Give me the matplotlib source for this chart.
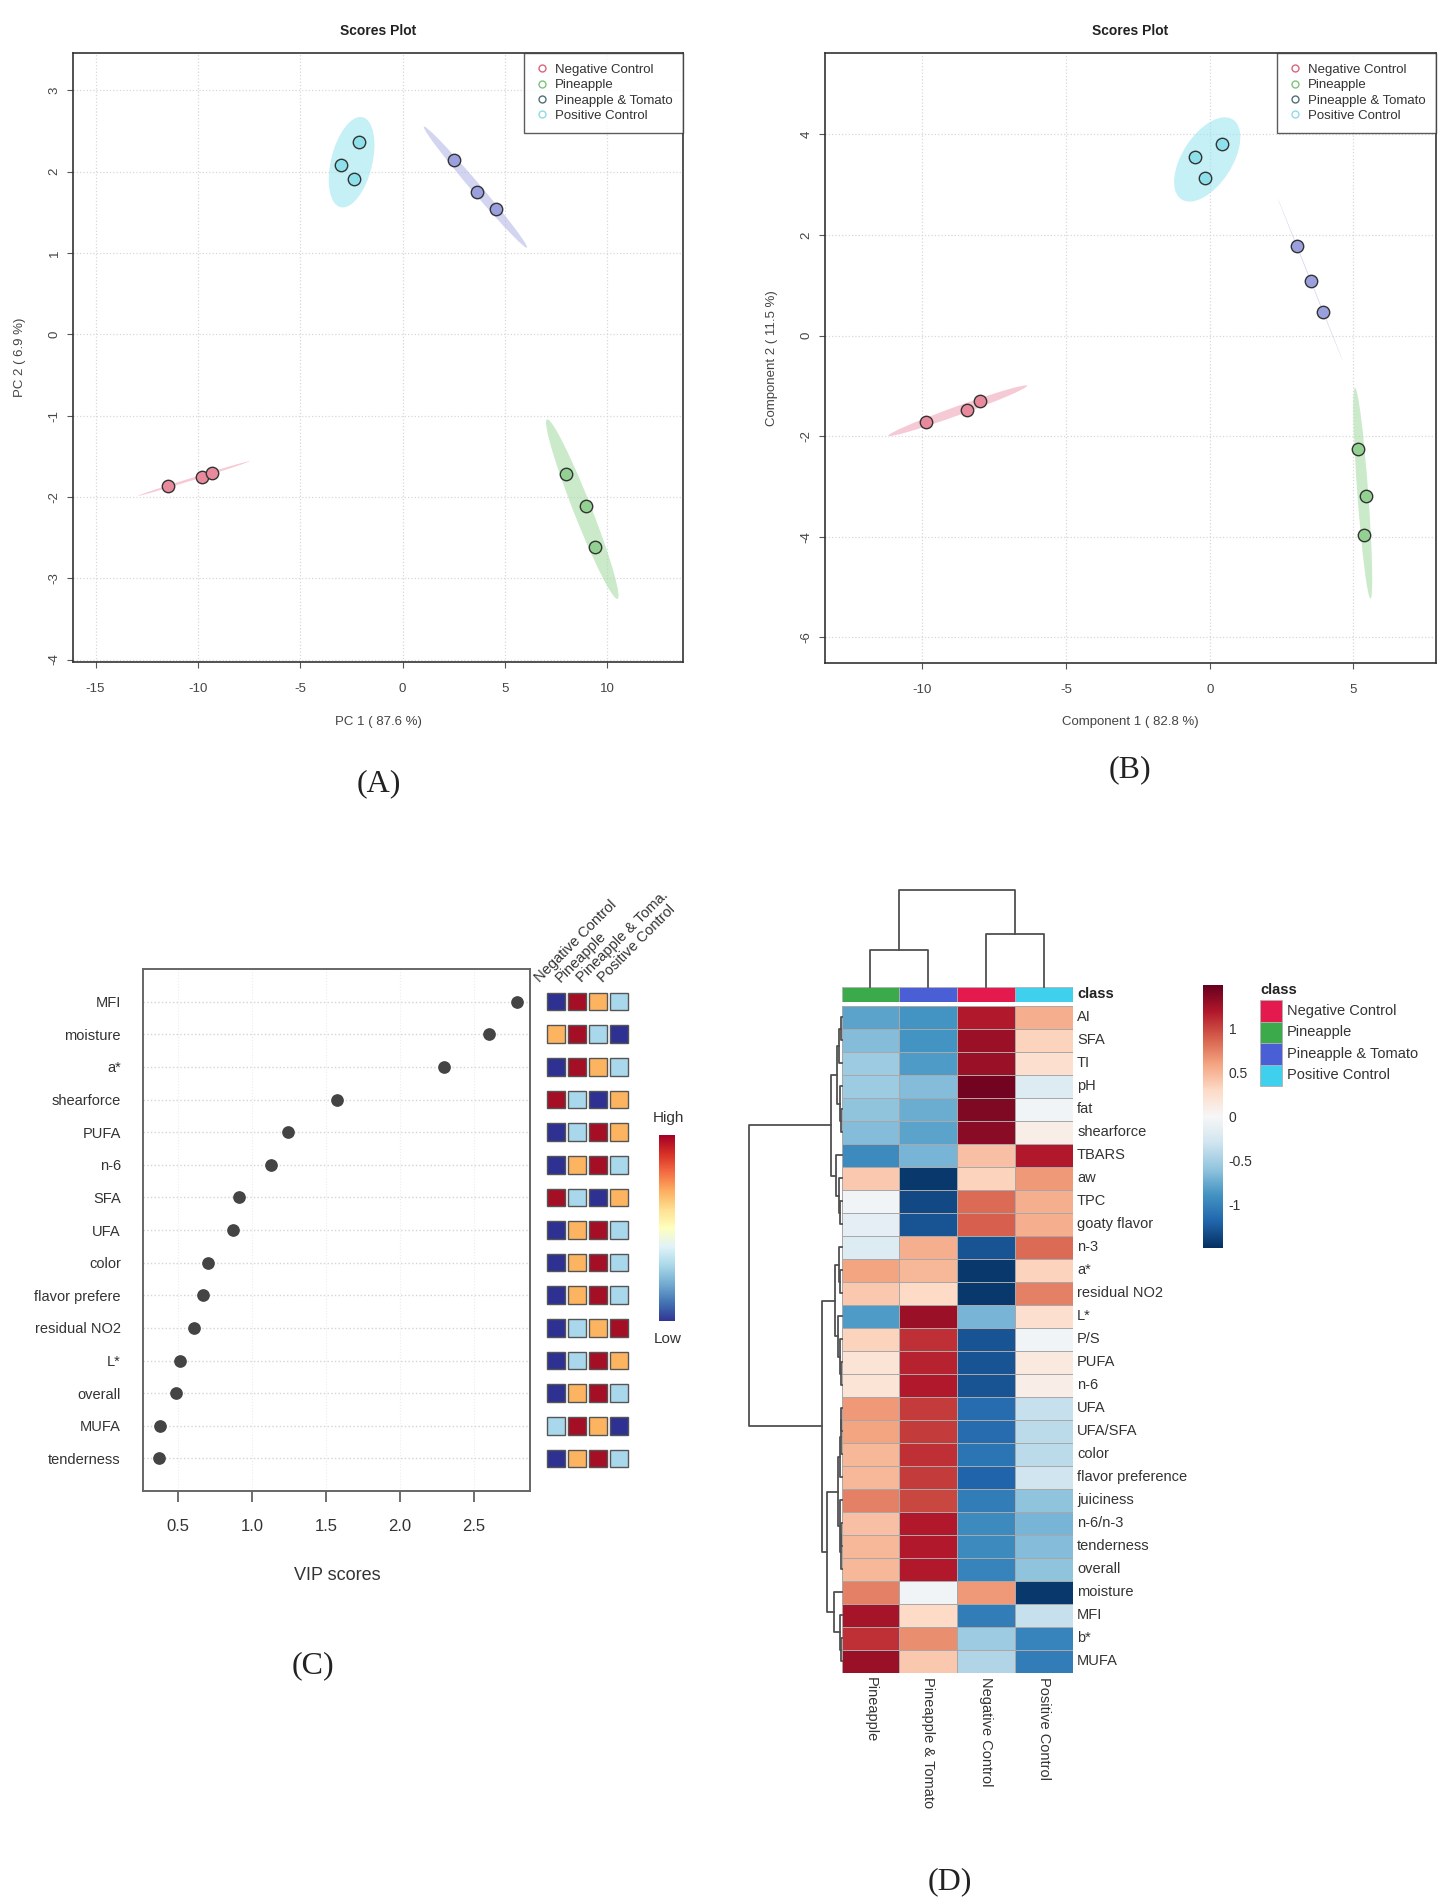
import numpy as np
import matplotlib
matplotlib.use("Agg")
import matplotlib.pyplot as plt
from matplotlib.patches import Ellipse, Rectangle
from matplotlib.lines import Line2D

plt.rcParams['font.family'] = ['Liberation Sans', 'DejaVu Sans']

W, H = 1442, 1904

#%%
# Data

groups = ["Negative Control", "Pineapple", "Pineapple & Tomato", "Positive Control"]

# (A) PCA scores, one list per group
pca_pc1 = [[-11.45, -9.80, -9.33], [7.99, 8.94, 9.41], [2.50, 3.62, 4.56], [-2.12, -3.00, -2.35]]
pca_pc2 = [[-1.87, -1.75, -1.70], [-1.72, -2.11, -2.62], [2.14, 1.75, 1.54], [2.36, 2.08, 1.91]]

# (B) PLS-DA scores
pls_c1 = [[-9.87, -8.44, -7.98], [5.17, 5.42, 5.38], [3.02, 3.52, 3.95], [-0.51, 0.42, -0.17]]
pls_c2 = [[-1.71, -1.47, -1.30], [-2.25, -3.19, -3.96], [1.79, 1.09, 0.46], [3.55, 3.82, 3.14]]

# (C) VIP scores + relative level per group (1 = low ... 4 = high)
vip_features = ["MFI", "moisture", "a*", "shearforce", "PUFA", "n-6", "SFA", "UFA", "color",
                "flavor prefere", "residual NO2", "L*", "overall", "MUFA", "tenderness"]
vip_scores = [2.79, 2.60, 2.30, 1.575, 1.245, 1.13, 0.91, 0.87, 0.705, 0.67, 0.61, 0.51, 0.485, 0.38, 0.37]
vip_rank = [[1, 4, 3, 2], [3, 4, 2, 1], [1, 4, 3, 2], [4, 2, 1, 3], [1, 2, 4, 3],
            [1, 3, 4, 2], [4, 2, 1, 3], [1, 3, 4, 2], [1, 3, 4, 2], [1, 3, 4, 2],
            [1, 2, 3, 4], [1, 2, 4, 3], [1, 3, 4, 2], [2, 4, 3, 1], [1, 3, 4, 2]]
vip_headers = ["Negative Control", "Pineapple", "Pineapple & Toma.", "Positive Control"]

# (D) heatmap (z-scores), columns in clustered order
heat_cols = ["Pineapple", "Pineapple & Tomato", "Negative Control", "Positive Control"]
heat_rows = ["AI", "SFA", "TI", "pH", "fat", "shearforce", "TBARS", "aw", "TPC", "goaty flavor",
             "n-3", "a*", "residual NO2", "L*", "P/S", "PUFA", "n-6", "UFA", "UFA/SFA", "color",
             "flavor preference", "juiciness", "n-6/n-3", "tenderness", "overall", "moisture",
             "MFI", "b*", "MUFA"]
heat_values = [
    [-0.80, -0.90, 1.20, 0.55], [-0.65, -0.90, 1.30, 0.35], [-0.55, -0.85, 1.30, 0.25],
    [-0.55, -0.65, 1.45, -0.20], [-0.60, -0.75, 1.40, -0.05], [-0.65, -0.80, 1.35, 0.10],
    [-0.95, -0.70, 0.45, 1.20], [0.40, -1.45, 0.35, 0.65], [-0.05, -1.35, 0.85, 0.55],
    [-0.15, -1.30, 0.90, 0.55], [-0.20, 0.55, -1.30, 0.85], [0.60, 0.50, -1.45, 0.35],
    [0.40, 0.30, -1.45, 0.75], [-0.85, 1.30, -0.70, 0.25], [0.35, 1.10, -1.30, -0.05],
    [0.20, 1.15, -1.30, 0.15], [0.20, 1.20, -1.30, 0.10], [0.65, 1.05, -1.15, -0.35],
    [0.60, 1.05, -1.15, -0.40], [0.50, 1.10, -1.10, -0.40], [0.50, 1.05, -1.20, -0.30],
    [0.75, 1.00, -1.05, -0.60], [0.45, 1.20, -0.95, -0.70], [0.50, 1.20, -0.95, -0.65],
    [0.50, 1.20, -1.00, -0.60], [0.75, -0.05, 0.65, -1.45], [1.25, 0.30, -1.05, -0.35],
    [1.10, 0.70, -0.55, -1.00], [1.30, 0.40, -0.45, -1.05]]
heat_col_class = [1, 2, 0, 3]   # index into groups

# cluster trees: (left, right, merge height); leaves are row/column indices
col_tree = ((0, 1, 37), (2, 3, 53), 97)
row_tree = (
    (((((0, 1, 1.0), 2, 2.2), (3, (4, 5, 0.8), 1.8), 4.2),
      (6, (7, (8, 9, 1.2), 2.6), 5.7), 10.7)),
    (((10, (11, 12, 1.5), 3.0), (13, (14, (15, 16, 0.7), 1.4), 3.5), 6.7),
     (((((17, 18, 0.4), 19, 0.9), 20, 1.3), (21, ((22, 23, 0.6), 24, 1.0), 1.8), 3.4),
      (25, (26, (27, 28, 1.0), 2.0), 7.7), 15.0), 20.0),
    92.7)

# colours
point_colors = ["#e8899c", "#92d192", "#9a9fdd", "#8ee0ea"]
ellipse_colors = ["#f0a8b8", "#a8dca8", "#b4b8e6", "#9ee6f0"]
legend_colors = ["#d9667f", "#7cc47c", "#4f6f78", "#8fdce6"]
rank_colors = ["#2e3192", "#a9d8ec", "#fdb460", "#a50f25"]
class_colors = ["#e41a4f", "#3baa4b", "#4a5fd6", "#3fd0ee"]

#%%
fig = plt.figure(figsize=(W / 100, H / 100), dpi=100)


def px_axes(x0, y0, x1, y1):
    return fig.add_axes([x0 / W, 1 - y1 / H, (x1 - x0) / W, (y1 - y0) / H])


def px_text(x, y, s, **kw):
    fig.text(x / W, 1 - y / H, s, **kw)


def scores_plot(ax, xs, ys, xlim, ylim, xticks, yticks):
    for i in range(len(groups)):
        x = np.array(xs[i])
        y = np.array(ys[i])
        vals, vecs = np.linalg.eigh(np.cov(x, y))
        ang = np.degrees(np.arctan2(vecs[1, 1], vecs[0, 1]))
        w = 2 * np.sqrt(5.991 * max(vals[1], 0))
        h = 2 * np.sqrt(5.991 * max(vals[0], 0))
        ax.add_patch(Ellipse((x.mean(), y.mean()), w, h, angle=ang,
                             facecolor=ellipse_colors[i], edgecolor='none', alpha=0.6, zorder=1))
        ax.scatter(x, y, s=80, facecolor=point_colors[i], edgecolor='#333333', linewidth=1.0, zorder=3)
    ax.set_xlim(*xlim)
    ax.set_ylim(*ylim)
    ax.set_xticks(xticks)
    ax.set_xticklabels([str(t) for t in xticks])
    ax.set_yticks(yticks)
    ax.set_yticklabels([str(t) for t in yticks], rotation=90, va='center')
    ax.grid(True, color='#d8d8d8', linestyle=':', linewidth=0.9)
    ax.set_axisbelow(True)
    ax.tick_params(direction='out', length=4, width=0.8, color='#555555', labelsize=9.5,
                   labelcolor='#444444')
    ax.tick_params(axis='x', pad=11)
    ax.tick_params(axis='y', pad=5)
    for sp in ax.spines.values():
        sp.set_color('#333333')
        sp.set_linewidth(1.2)
    handles = [Line2D([], [], marker='o', linestyle='none', markerfacecolor='none',
                      markeredgecolor=c, markersize=5, markeredgewidth=1.0) for c in legend_colors]
    leg = ax.legend(handles, groups, loc='upper right', borderaxespad=0, frameon=True, fancybox=False,
                    edgecolor='#333333', fontsize=9.5, handletextpad=0.4, labelspacing=0.24,
                    borderpad=0.8, handlelength=1.1)
    leg.get_frame().set_linewidth(1.0)
    for t in leg.get_texts():
        t.set_color('#333333')


#%%
# (A) PCA
axa = px_axes(73, 53, 683, 662)
scores_plot(axa, pca_pc1, pca_pc2, (-16.1, 13.7), (-4.03, 3.46), [-15, -10, -5, 0, 5, 10], list(range(-4, 4)))
px_text(378, 31, "Scores Plot", ha='center', va='center', fontsize=10, fontweight='bold', color='#222222')
px_text(378, 722, "PC 1 ( 87.6 %)", ha='center', va='center', fontsize=9.5, color='#444444')
px_text(20, 357, "PC 2 ( 6.9 %)", ha='center', va='center', rotation=90, fontsize=9.5, color='#444444')

# (B) PLS-DA
axb = px_axes(825, 53, 1436, 663)
scores_plot(axb, pls_c1, pls_c2, (-13.38, 7.87), (-6.51, 5.62), [-10, -5, 0, 5], [-6, -4, -2, 0, 2, 4])
px_text(1130, 31, "Scores Plot", ha='center', va='center', fontsize=10, fontweight='bold', color='#222222')
px_text(1130, 722, "Component 1 ( 82.8 %)", ha='center', va='center', fontsize=9.5, color='#444444')
px_text(772, 358, "Component 2 ( 11.5 %)", ha='center', va='center', rotation=90, fontsize=9.5, color='#444444')

#%%
# (C) VIP scores
axc = px_axes(143, 969, 530, 1491)
ypos = np.arange(len(vip_features))
for y in ypos:
    axc.axhline(y, color='#d4d4d4', linestyle=':', linewidth=1.0, zorder=1)
for xv in [0.5, 1.0, 1.5, 2.0, 2.5]:
    axc.axvline(xv, color='#ececec', linestyle=':', linewidth=0.8, zorder=0)
axc.scatter(vip_scores, ypos, s=66, color='#444444', zorder=3)
axc.set_xlim(0.263, 2.878)
axc.set_ylim(15.0, -1.0)
axc.set_yticks(ypos)
axc.set_yticklabels(vip_features, fontsize=10.5, color='#333333')
axc.set_xticks([0.5, 1.0, 1.5, 2.0, 2.5])
axc.set_xticklabels(["0.5", "1.0", "1.5", "2.0", "2.5"], fontsize=12, color='#333333')
axc.tick_params(axis='y', length=0, pad=16)
axc.tick_params(axis='x', direction='out', length=8, width=1.2, color='#555555', pad=12)
for sp in axc.spines.values():
    sp.set_color('#666666')
    sp.set_linewidth(1.4)
px_text(337, 1575, "VIP scores", ha='center', va='center', fontsize=13, color='#333333')

# group level squares
axs = px_axes(545, 969, 635, 1491)
axs.set_xlim(0, 90)
axs.set_ylim(15.0, -1.0)
axs.axis('off')
for i, ranks in enumerate(vip_rank):
    for j, r in enumerate(ranks):
        axs.add_patch(Rectangle((2 + j * 21, i - 0.27), 18, 0.54, facecolor=rank_colors[r - 1],
                                edgecolor='#555555', linewidth=1.0))
for j, name in enumerate(vip_headers):
    axs.text(-3 + j * 21, -0.5, name, rotation=45, ha='left', va='bottom', rotation_mode='anchor',
             fontsize=10.5, color='#333333')

# High / Low colour key
axk = px_axes(659, 1135, 675, 1321)
axk.imshow(np.linspace(1, 0, 256)[:, None], aspect='auto', cmap='RdYlBu_r')
axk.axis('off')
px_text(668, 1118, "High", ha='center', va='center', fontsize=11, color='#333333')
px_text(668, 1339, "Low", ha='center', va='center', fontsize=11, color='#333333')


#%%
# (D) clustered heatmap
def dendro_segments(node, segs):
    if isinstance(node, int):
        return node + 0.5, 0.0
    left, right, h = node
    pl, hl = dendro_segments(left, segs)
    pr, hr = dendro_segments(right, segs)
    segs.append(([pl, pl, pr, pr], [hl, h, h, hr]))
    return (pl + pr) / 2, h


nr, nc = len(heat_rows), len(heat_cols)
axh = px_axes(841.5, 1006, 1072.5, 1672.6)
axh.pcolormesh(np.array(heat_values), cmap='RdBu_r', vmin=-1.5, vmax=1.5,
               edgecolors='#a8a8a8', linewidth=0.6)
axh.set_xlim(0, nc)
axh.set_ylim(nr, 0)
axh.axis('off')
for i, lab in enumerate(heat_rows):
    axh.text(nc + 0.08, i + 0.5, lab, ha='left', va='center', fontsize=10.5, color='#333333')
for j, lab in enumerate(heat_cols):
    axh.text(j + 0.5, nr + 0.2, lab, rotation=270, ha='center', va='top', fontsize=10.5, color='#333333')

# class annotation bar
axcl = px_axes(841.5, 986.7, 1072.5, 1001.7)
for j, g in enumerate(heat_col_class):
    axcl.add_patch(Rectangle((j, 0), 1, 1, facecolor=class_colors[g], edgecolor='#b0b0b0', linewidth=0.6))
axcl.set_xlim(0, nc)
axcl.set_ylim(0, 1)
axcl.axis('off')
axcl.text(nc + 0.08, 0.5, "class", ha='left', va='center', fontsize=10.5, fontweight='bold', color='#222222')

# column dendrogram
axdc = px_axes(841.5, 888, 1072.5, 986.7)
segs = []
dendro_segments(col_tree, segs)
for xs_, hs_ in segs:
    axdc.plot(xs_, hs_, color='#505050', linewidth=1.3, clip_on=False)
axdc.set_xlim(0, nc)
axdc.set_ylim(0, 98.7)
axdc.axis('off')

# row dendrogram
axdr = px_axes(747, 1006, 841.5, 1672.6)
segs = []
dendro_segments(row_tree, segs)
for ps_, hs_ in segs:
    axdr.plot(hs_, ps_, color='#505050', linewidth=1.3, clip_on=False)
axdr.set_xlim(94.5, 0)
axdr.set_ylim(nr, 0)
axdr.axis('off')

# colour bar
axcb = px_axes(1203, 985, 1223, 1248)
axcb.imshow(np.linspace(1.5, -1.5, 256)[:, None], aspect='auto', cmap='RdBu_r', vmin=-1.5, vmax=1.5,
            extent=[0, 1, -1.5, 1.5])
axcb.set_xticks([])
axcb.yaxis.tick_right()
axcb.set_yticks([-1, -0.5, 0, 0.5, 1])
axcb.set_yticklabels(["-1", "-0.5", "0", "0.5", "1"], fontsize=10, color='#333333')
axcb.tick_params(axis='y', length=0, pad=4)
for sp in axcb.spines.values():
    sp.set_visible(False)

# class legend
axl = px_axes(1250, 975, 1442, 1100)
axl.set_xlim(1250, 1442)
axl.set_ylim(1100, 975)
axl.axis('off')
axl.text(1260, 990, "class", ha='left', va='center', fontsize=10.5, fontweight='bold', color='#222222')
for k, g in enumerate(groups):
    axl.add_patch(Rectangle((1260, 1000 + k * 21.5), 22, 21.5, facecolor=class_colors[k],
                            edgecolor='#b0b0b0', linewidth=0.6))
    axl.text(1287, 1000 + k * 21.5 + 10.75, g, ha='left', va='center', fontsize=10.5, color='#333333')

#%%
# panel letters
for lab, x, y in [("(A)", 379, 784), ("(B)", 1130, 770), ("(C)", 313, 1666), ("(D)", 950, 1882)]:
    px_text(x, y, lab, ha='center', va='center', fontsize=23, family='Liberation Serif', color='#222222')

fig.savefig("out.png", dpi=100)
